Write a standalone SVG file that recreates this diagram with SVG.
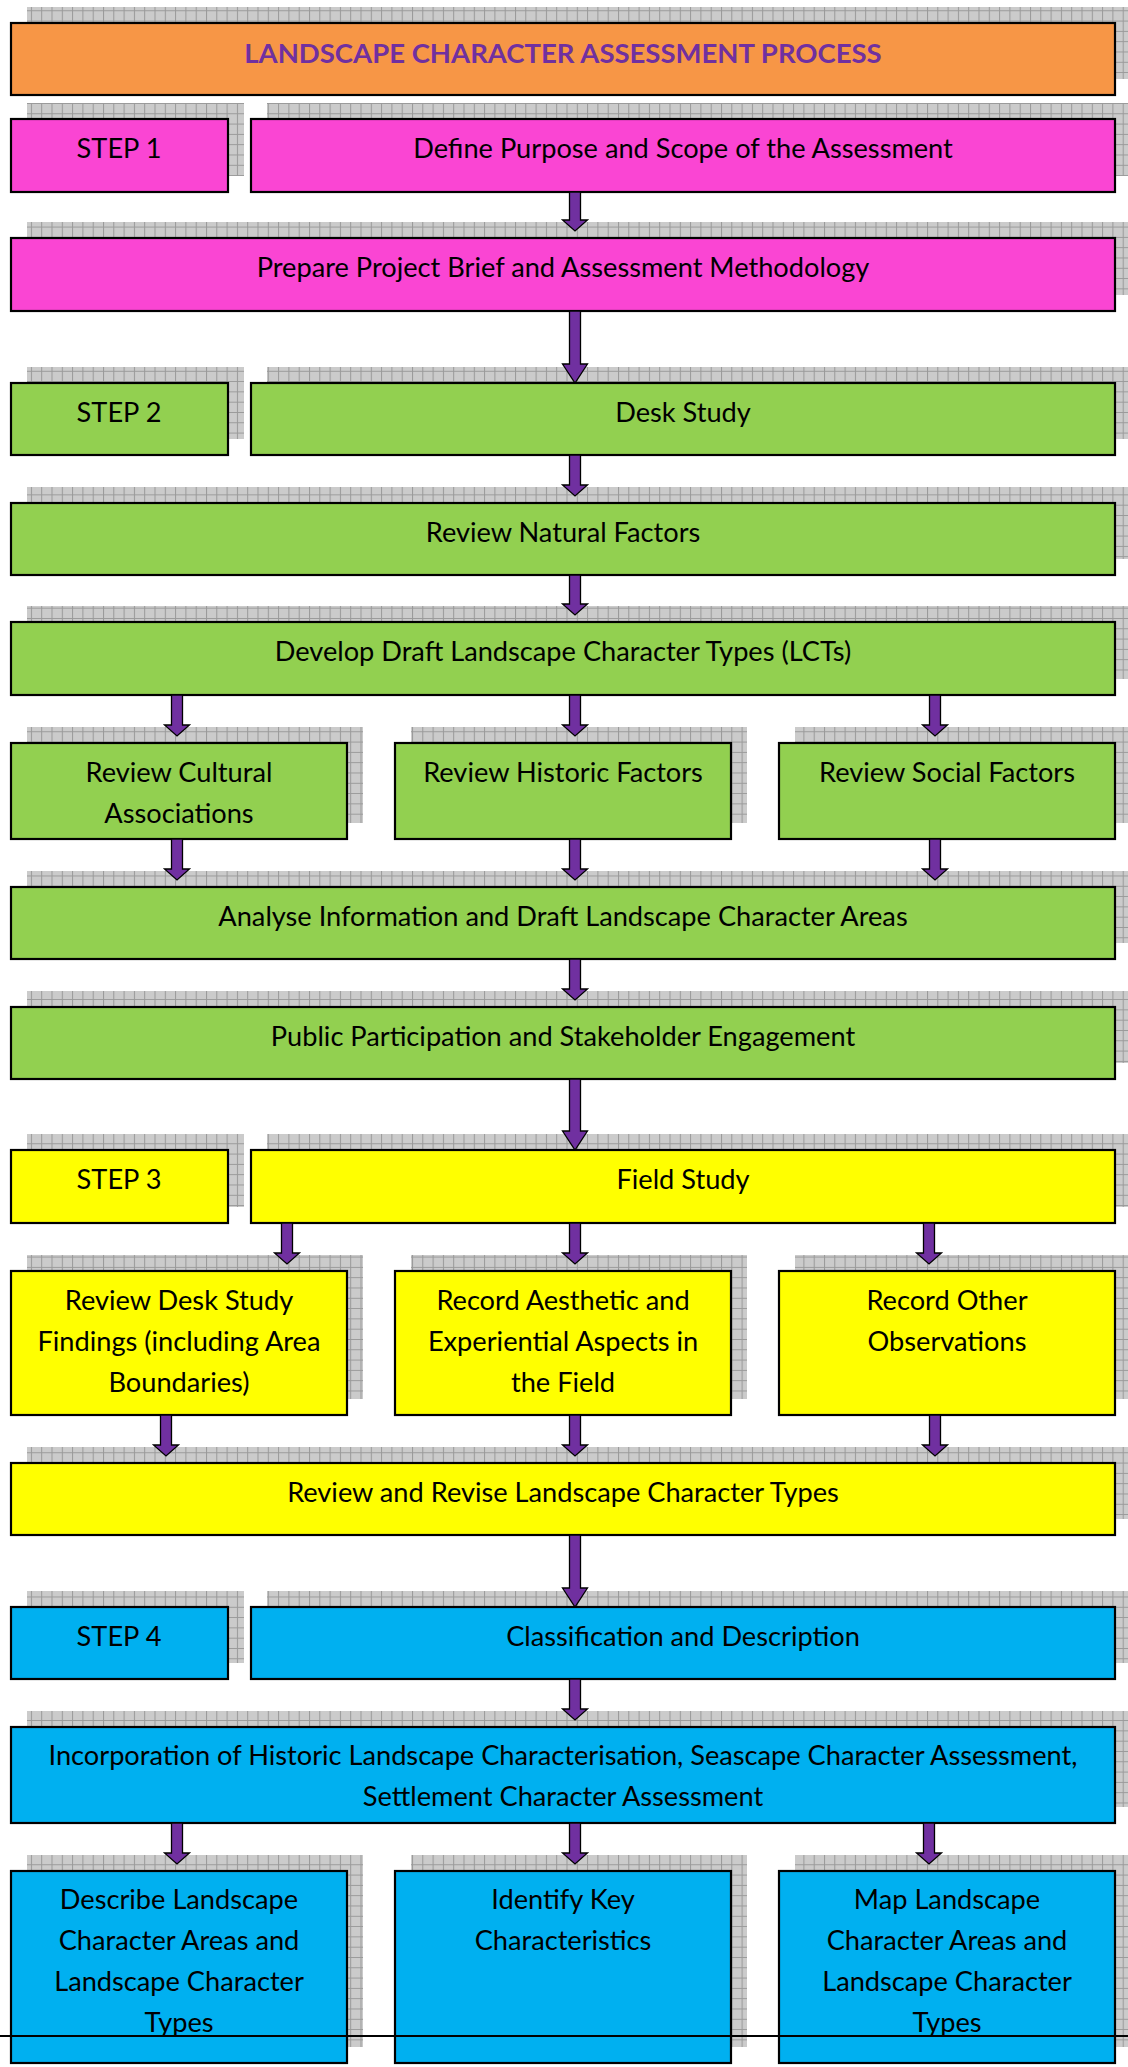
<svg xmlns="http://www.w3.org/2000/svg" width="1128" height="2067" viewBox="0 0 1128 2067">
<style>
.bx{stroke:#000;stroke-width:2.2}
.sh{fill:url(#grid)}
.t{font-family:Lato,"Open Sans","Liberation Sans",sans-serif;font-size:27.2px;fill:#000;text-anchor:middle}
.ttl{font-family:Lato,"Open Sans","Liberation Sans",sans-serif;font-size:27.5px;font-weight:bold;fill:#7030A0;text-anchor:middle}
.pk{fill:#FA45D3}.or{fill:#F79646}.gr{fill:#92D050}.ye{fill:#FFFF00}.bl{fill:#00B0F0}
.ar{fill:#7030A0;stroke:#000;stroke-width:1.3;stroke-linejoin:miter}
</style>
<defs>
<pattern id="grid" patternUnits="userSpaceOnUse" width="10.3" height="10.3">
<rect width="10.3" height="10.3" fill="#cbcbcb"/>
<path d="M0.5 0V10.3M0 0.5H10.3" stroke="#999" stroke-width="1"/>
</pattern>
</defs>
<rect width="1128" height="2067" fill="#fff"/>

<g id="title"><rect class="sh" x="27" y="7" width="1104" height="72"/><rect class="bx or" x="11" y="23" width="1104" height="72"/><text class="ttl" x="563" y="63">LANDSCAPE CHARACTER ASSESSMENT PROCESS</text></g>

<g id="step1"><rect class="sh" x="27" y="103" width="217" height="73"/><rect class="bx pk" x="11" y="119" width="217" height="73"/><text class="t" x="119" y="158">STEP 1</text></g>
<g id="define"><rect class="sh" x="267" y="103" width="864" height="73"/><rect class="bx pk" x="251" y="119" width="864" height="73"/><text class="t" x="683" y="158">Define Purpose and Scope of the Assessment</text></g>
<g id="prepare"><rect class="sh" x="27" y="222" width="1104" height="73"/><rect class="bx pk" x="11" y="238" width="1104" height="73"/><text class="t" x="563" y="277">Prepare Project Brief and Assessment Methodology</text></g>

<g id="step2"><rect class="sh" x="27" y="367" width="217" height="72"/><rect class="bx gr" x="11" y="383" width="217" height="72"/><text class="t" x="119" y="422">STEP 2</text></g>
<g id="desk"><rect class="sh" x="267" y="367" width="864" height="72"/><rect class="bx gr" x="251" y="383" width="864" height="72"/><text class="t" x="683" y="422">Desk Study</text></g>
<g id="natural"><rect class="sh" x="27" y="487" width="1104" height="72"/><rect class="bx gr" x="11" y="503" width="1104" height="72"/><text class="t" x="563" y="542">Review Natural Factors</text></g>
<g id="develop"><rect class="sh" x="27" y="606" width="1104" height="73"/><rect class="bx gr" x="11" y="622" width="1104" height="73"/><text class="t" x="563" y="661">Develop Draft Landscape Character Types (LCTs)</text></g>
<g id="cultural"><rect class="sh" x="27" y="727" width="336" height="96"/><rect class="bx gr" x="11" y="743" width="336" height="96"/><text class="t" x="179" y="782">Review Cultural</text><text class="t" x="179" y="823">Associations</text></g>
<g id="historic"><rect class="sh" x="411" y="727" width="336" height="96"/><rect class="bx gr" x="395" y="743" width="336" height="96"/><text class="t" x="563" y="782">Review Historic Factors</text></g>
<g id="social"><rect class="sh" x="795" y="727" width="336" height="96"/><rect class="bx gr" x="779" y="743" width="336" height="96"/><text class="t" x="947" y="782">Review Social Factors</text></g>
<g id="analyse"><rect class="sh" x="27" y="871" width="1104" height="72"/><rect class="bx gr" x="11" y="887" width="1104" height="72"/><text class="t" x="563" y="926">Analyse Information and Draft Landscape Character Areas</text></g>
<g id="public"><rect class="sh" x="27" y="991" width="1104" height="72"/><rect class="bx gr" x="11" y="1007" width="1104" height="72"/><text class="t" x="563" y="1046">Public Participation and Stakeholder Engagement</text></g>

<g id="step3"><rect class="sh" x="27" y="1134" width="217" height="73"/><rect class="bx ye" x="11" y="1150" width="217" height="73"/><text class="t" x="119" y="1189">STEP 3</text></g>
<g id="field"><rect class="sh" x="267" y="1134" width="864" height="73"/><rect class="bx ye" x="251" y="1150" width="864" height="73"/><text class="t" x="683" y="1189">Field Study</text></g>
<g id="reviewdesk"><rect class="sh" x="27" y="1255" width="336" height="144"/><rect class="bx ye" x="11" y="1271" width="336" height="144"/><text class="t" x="179" y="1310">Review Desk Study</text><text class="t" x="179" y="1351">Findings (including Area</text><text class="t" x="179" y="1392">Boundaries)</text></g>
<g id="aesthetic"><rect class="sh" x="411" y="1255" width="336" height="144"/><rect class="bx ye" x="395" y="1271" width="336" height="144"/><text class="t" x="563" y="1310">Record Aesthetic and</text><text class="t" x="563" y="1351">Experiential Aspects in</text><text class="t" x="563" y="1392">the Field</text></g>
<g id="other"><rect class="sh" x="795" y="1255" width="336" height="144"/><rect class="bx ye" x="779" y="1271" width="336" height="144"/><text class="t" x="947" y="1310">Record Other</text><text class="t" x="947" y="1351">Observations</text></g>
<g id="revise"><rect class="sh" x="27" y="1447" width="1104" height="72"/><rect class="bx ye" x="11" y="1463" width="1104" height="72"/><text class="t" x="563" y="1502">Review and Revise Landscape Character Types</text></g>

<g id="step4"><rect class="sh" x="27" y="1591" width="217" height="72"/><rect class="bx bl" x="11" y="1607" width="217" height="72"/><text class="t" x="119" y="1646">STEP 4</text></g>
<g id="classification"><rect class="sh" x="267" y="1591" width="864" height="72"/><rect class="bx bl" x="251" y="1607" width="864" height="72"/><text class="t" x="683" y="1646">Classification and Description</text></g>
<g id="incorporation"><rect class="sh" x="27" y="1711" width="1104" height="96"/><rect class="bx bl" x="11" y="1727" width="1104" height="96"/><text class="t" x="563" y="1765">Incorporation of Historic Landscape Characterisation, Seascape Character Assessment,</text><text class="t" x="563" y="1806">Settlement Character Assessment</text></g>
<g id="describe"><rect class="sh" x="27" y="1855" width="336" height="192"/><rect class="bx bl" x="11" y="1871" width="336" height="192"/><text class="t" x="179" y="1909">Describe Landscape</text><text class="t" x="179" y="1950">Character Areas and</text><text class="t" x="179" y="1991">Landscape Character</text><text class="t" x="179" y="2032">Types</text></g>
<g id="identify"><rect class="sh" x="411" y="1855" width="336" height="192"/><rect class="bx bl" x="395" y="1871" width="336" height="192"/><text class="t" x="563" y="1909">Identify Key</text><text class="t" x="563" y="1950">Characteristics</text></g>
<g id="map"><rect class="sh" x="795" y="1855" width="336" height="192"/><rect class="bx bl" x="779" y="1871" width="336" height="192"/><text class="t" x="947" y="1909">Map Landscape</text><text class="t" x="947" y="1950">Character Areas and</text><text class="t" x="947" y="1991">Landscape Character</text><text class="t" x="947" y="2032">Types</text></g>

<g id="connectors">
<path class="ar" d="M569.5 192H580.5V220H587.5L575 231L562.5 220H569.5Z"/>
<path class="ar" d="M569.5 311H580.5V364H587.5L575 383L562.5 364H569.5Z"/>
<path class="ar" d="M569.5 455H580.5V485H587.5L575 496L562.5 485H569.5Z"/>
<path class="ar" d="M569.5 575H580.5V604H587.5L575 615L562.5 604H569.5Z"/>
<path class="ar" d="M171.5 695H182.5V725H189.5L177 736L164.5 725H171.5Z"/>
<path class="ar" d="M569.5 695H580.5V725H587.5L575 736L562.5 725H569.5Z"/>
<path class="ar" d="M929.5 695H940.5V725H947.5L935 736L922.5 725H929.5Z"/>
<path class="ar" d="M171.5 839H182.5V869H189.5L177 880L164.5 869H171.5Z"/>
<path class="ar" d="M569.5 839H580.5V869H587.5L575 880L562.5 869H569.5Z"/>
<path class="ar" d="M929.5 839H940.5V869H947.5L935 880L922.5 869H929.5Z"/>
<path class="ar" d="M569.5 959H580.5V989H587.5L575 1000L562.5 989H569.5Z"/>
<path class="ar" d="M569.5 1079H580.5V1131H587.5L575 1150L562.5 1131H569.5Z"/>
<path class="ar" d="M281.5 1223H292.5V1253H299.5L287 1264L274.5 1253H281.5Z"/>
<path class="ar" d="M569.5 1223H580.5V1253H587.5L575 1264L562.5 1253H569.5Z"/>
<path class="ar" d="M923.5 1223H934.5V1253H941.5L929 1264L916.5 1253H923.5Z"/>
<path class="ar" d="M160.5 1415H171.5V1445H178.5L166 1456L153.5 1445H160.5Z"/>
<path class="ar" d="M569.5 1415H580.5V1445H587.5L575 1456L562.5 1445H569.5Z"/>
<path class="ar" d="M929.5 1415H940.5V1445H947.5L935 1456L922.5 1445H929.5Z"/>
<path class="ar" d="M569.5 1535H580.5V1588H587.5L575 1607L562.5 1588H569.5Z"/>
<path class="ar" d="M569.5 1679H580.5V1709H587.5L575 1720L562.5 1709H569.5Z"/>
<path class="ar" d="M171.5 1823H182.5V1853H189.5L177 1864L164.5 1853H171.5Z"/>
<path class="ar" d="M569.5 1823H580.5V1853H587.5L575 1864L562.5 1853H569.5Z"/>
<path class="ar" d="M923.5 1823H934.5V1853H941.5L929 1864L916.5 1853H923.5Z"/>
</g>
<line x1="0" y1="2036" x2="1128" y2="2036" stroke="#000" stroke-width="2"/>
</svg>
